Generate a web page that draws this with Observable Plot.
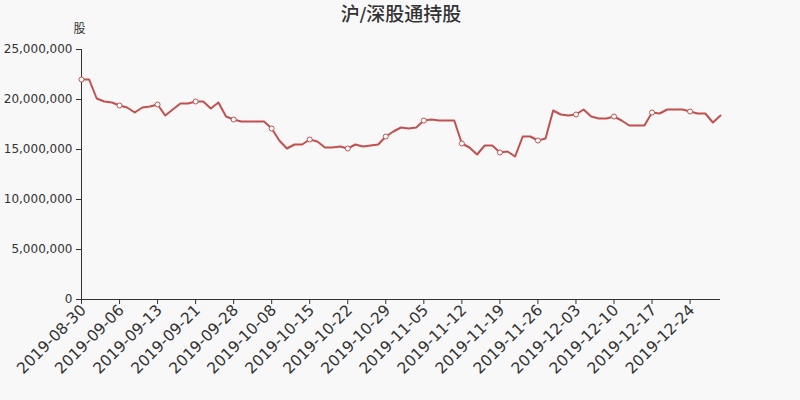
<!DOCTYPE html>
<html>
<head>
<meta charset="utf-8">
<script src="https://cdn.jsdelivr.net/npm/d3@7"></script>
<script src="https://cdn.jsdelivr.net/npm/@observablehq/plot@0.6"></script>
<style>
  html, body { margin: 0; padding: 0; background: #f8f8f8; }
</style>
</head>
<body>
<div id="chart"></div>
<script>
const title = "沪/深股通持股";
const unitLabel = "股";

const dates = [
  "2019-08-30","2019-09-02","2019-09-03","2019-09-04","2019-09-05","2019-09-06",
  "2019-09-09","2019-09-10","2019-09-11","2019-09-12","2019-09-13",
  "2019-09-16","2019-09-17","2019-09-18","2019-09-19","2019-09-21",
  "2019-09-23","2019-09-24","2019-09-25","2019-09-26","2019-09-28",
  "2019-09-30","2019-10-02","2019-10-03","2019-10-04","2019-10-08",
  "2019-10-09","2019-10-10","2019-10-11","2019-10-14","2019-10-15",
  "2019-10-16","2019-10-17","2019-10-18","2019-10-21","2019-10-22",
  "2019-10-23","2019-10-24","2019-10-25","2019-10-28","2019-10-29",
  "2019-10-30","2019-10-31","2019-11-01","2019-11-04","2019-11-05",
  "2019-11-06","2019-11-07","2019-11-08","2019-11-11","2019-11-12",
  "2019-11-13","2019-11-14","2019-11-15","2019-11-18","2019-11-19",
  "2019-11-20","2019-11-21","2019-11-22","2019-11-25","2019-11-26",
  "2019-11-27","2019-11-28","2019-11-29","2019-12-02","2019-12-03",
  "2019-12-04","2019-12-05","2019-12-06","2019-12-09","2019-12-10",
  "2019-12-11","2019-12-12","2019-12-13","2019-12-16","2019-12-17",
  "2019-12-18","2019-12-19","2019-12-20","2019-12-23","2019-12-24",
  "2019-12-26","2019-12-27","2019-12-30","2019-12-31"
];

const holdings = [
  22000000, 22000000, 20100000, 19800000, 19700000, 19400000,
  19200000, 18700000, 19200000, 19300000, 19500000,
  18400000, 19000000, 19600000, 19600000, 19800000,
  19800000, 19100000, 19700000, 18300000, 18000000,
  17800000, 17800000, 17800000, 17800000, 17100000,
  15900000, 15100000, 15500000, 15500000, 16000000,
  15800000, 15200000, 15200000, 15300000, 15100000,
  15500000, 15300000, 15400000, 15500000, 16300000,
  16800000, 17200000, 17100000, 17200000, 17900000,
  18000000, 17900000, 17900000, 17900000, 15600000,
  15200000, 14500000, 15400000, 15400000, 14700000,
  14800000, 14300000, 16300000, 16300000, 15900000,
  16100000, 18900000, 18500000, 18400000, 18500000,
  19000000, 18300000, 18100000, 18100000, 18300000,
  17900000, 17400000, 17400000, 17400000, 18700000,
  18600000, 19000000, 19000000, 19000000, 18800000,
  18600000, 18600000, 17700000, 18400000
];

const xTickLabels = [
  "2019-08-30","2019-09-06","2019-09-13","2019-09-21","2019-09-28","2019-10-08",
  "2019-10-15","2019-10-22","2019-10-29","2019-11-05","2019-11-12","2019-11-19",
  "2019-11-26","2019-12-03","2019-12-10","2019-12-17","2019-12-24"
];
const yTicks = [0, 5000000, 10000000, 15000000, 20000000, 25000000];

const data = dates.map((d, i) => ({date: d, value: holdings[i], i}));
const markerSet = new Set(xTickLabels);
const lineColor = "#c1504f";

const chart = Plot.plot({
  width: 800,
  height: 400,
  marginLeft: 81,
  marginRight: 80,
  marginTop: 49,
  marginBottom: 101,
  style: {background: "#f8f8f8", fontFamily: "'DejaVu Sans', 'Noto Sans CJK SC', sans-serif", color: "#333"},
  x: {type: "point", domain: dates, padding: 0},
  y: {domain: [0, 25000000]},
  marks: [
    Plot.axisY(yTicks, {tickFormat: d3.format(","), tickSize: 5, tickPadding: 4, fontSize: 12, label: null, stroke: "#333"}),
    Plot.axisX(xTickLabels, {tickSize: 5, text: null, label: null, stroke: "#333"}),
    Plot.axisX(xTickLabels, {tickRotate: -45, tickSize: 0, tickPadding: 8, fontSize: 15.5, label: null, dx: 2}),
    Plot.ruleX([dates[0]], {stroke: "#333"}),
    Plot.ruleY([0], {stroke: "#333"}),
    Plot.line(data, {x: "date", y: "value", stroke: lineColor, strokeWidth: 2}),
    Plot.dot(data.filter(d => markerSet.has(d.date)), {x: "date", y: "value", r: 2.5, fill: "white", stroke: lineColor, strokeWidth: 1}),
    Plot.text([title], {frameAnchor: "top", lineAnchor: "middle", dy: -35, fontSize: 19, fontWeight: 500, fill: "#333"}),
    Plot.text([unitLabel], {frameAnchor: "top-left", lineAnchor: "middle", textAnchor: "middle", dx: -2, dy: -20, fontSize: 12, fill: "#333"})
  ]
});

document.getElementById("chart").appendChild(chart);
</script>
</body>
</html>
